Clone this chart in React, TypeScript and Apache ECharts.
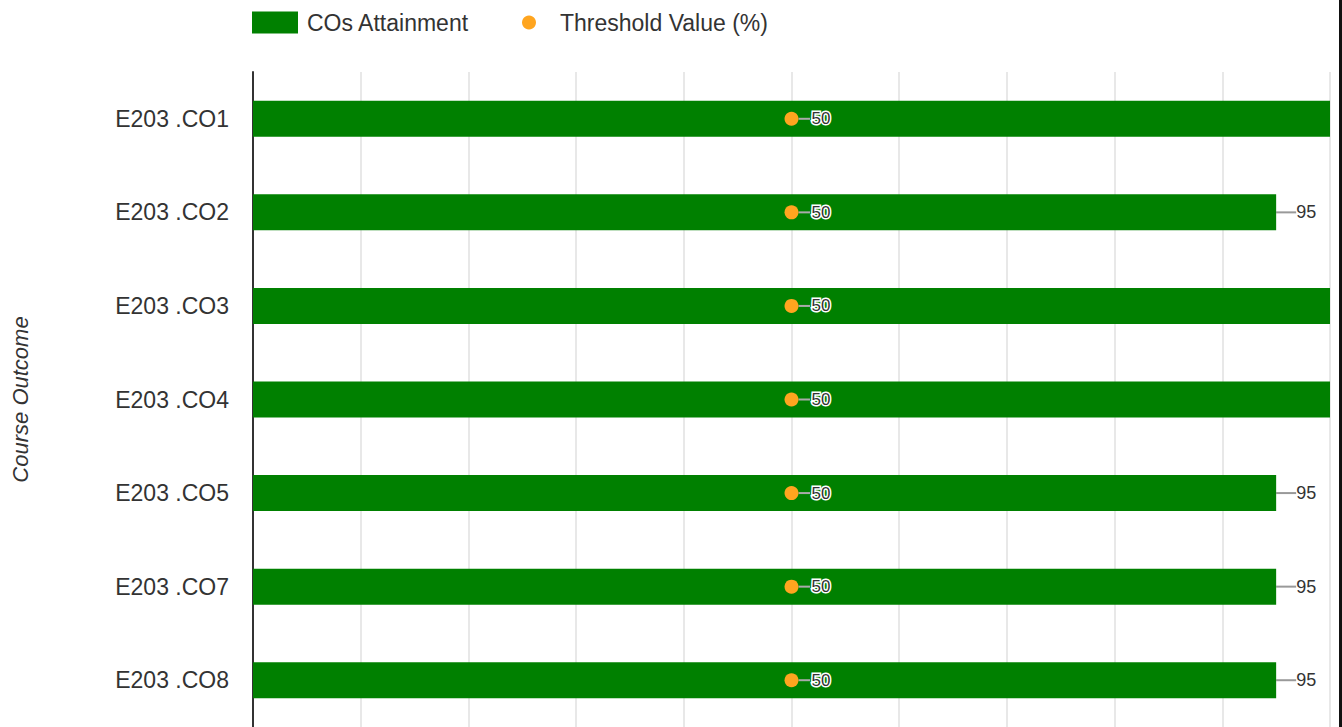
import React, { useEffect, useRef } from "react";
import * as echarts from "echarts";

const categories = ["E203 .CO1", "E203 .CO2", "E203 .CO3", "E203 .CO4", "E203 .CO5", "E203 .CO7", "E203 .CO8"];
const attainment = [100, 95, 100, 100, 95, 95, 95];
const threshold = [50, 50, 50, 50, 50, 50, 50];
const barName = "COs Attainment";
const thresholdName = "Threshold Value (%)";
const yAxisName = "Course Outcome";

export default function App() {
  const ref = useRef<HTMLDivElement>(null);
  useEffect(() => {
    if (!ref.current) return;
    const chart = echarts.init(ref.current, undefined, { renderer: "svg" });
    const font = "Liberation Sans, Arial, sans-serif";
    const xMax = 100;
    chart.setOption({
      animation: false,
      textStyle: { fontFamily: font },
      legend: [
        {
          data: [{ name: barName, icon: "rect" }],
          left: 252,
          top: 11,
          padding: 0,
          itemWidth: 46,
          itemHeight: 22,
          textStyle: { fontSize: 23, color: "#333", padding: [0, 0, 0, 4], fontFamily: font },
        },
        {
          data: [{ name: thresholdName, icon: "circle" }],
          left: 522,
          top: 11,
          padding: 0,
          itemWidth: 14,
          itemHeight: 14,
          textStyle: { fontSize: 23, color: "#333", padding: [0, 0, 0, 19], fontFamily: font },
        },
      ],
      grid: { left: 253, top: 72, width: 1077, height: 658, containLabel: false },
      xAxis: {
        type: "value",
        min: 0,
        max: xMax,
        interval: 10,
        axisLine: { show: false },
        axisTick: { show: false },
        axisLabel: { show: false },
        splitLine: { show: true, lineStyle: { color: "#e8e8e8", width: 2 } },
      },
      yAxis: {
        type: "category",
        data: categories,
        inverse: true,
        name: yAxisName,
        nameLocation: "middle",
        nameGap: 222,
        nameTextStyle: { fontSize: 22, fontStyle: "italic", color: "#333", fontFamily: font },
        axisLine: { show: true, lineStyle: { color: "#333", width: 2 } },
        axisTick: { show: false },
        axisLabel: { fontSize: 23, color: "#333", margin: 24, fontFamily: font },
        splitLine: { show: false },
      },
      series: [
        {
          name: barName,
          type: "bar",
          data: attainment.map((v) => ({ value: v, label: { show: v < xMax } })),
          barWidth: 36,
          itemStyle: { color: "#008000" },
          label: { show: true, position: "right", distance: 0, fontSize: 18, color: "#333", fontFamily: font },
          labelLayout: { dx: 20 },
          labelLine: { show: true, lineStyle: { color: "#999", width: 2 } },
        },
        {
          name: thresholdName,
          type: "scatter",
          data: threshold,
          symbolSize: 14,
          itemStyle: { color: "#ffa51f", opacity: 1 },
          z: 5,
          label: {
            show: true,
            position: "right",
            distance: 0,
            fontSize: 17,
            color: "#333",
            textBorderColor: "#fff",
            textBorderWidth: 3,
            fontFamily: font,
          },
          labelLayout: { dx: 13 },
          labelLine: { show: true, lineStyle: { color: "#aaa", width: 2 } },
        },
      ],
      graphic: [
        { type: "rect", left: 1339, top: 0, shape: { width: 3, height: 727 }, style: { fill: "#111" } },
      ],
    });
    return () => chart.dispose();
  }, []);
  return <div ref={ref} style={{ position: "absolute", left: 0, top: 0, width: 1342, height: 727 }} />;
}
